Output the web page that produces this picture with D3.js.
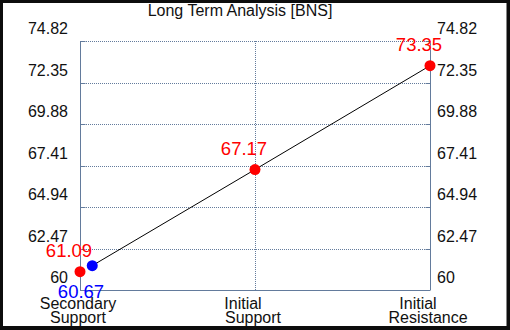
<!DOCTYPE html>
<html>
<head>
<meta charset="utf-8">
<script src="https://cdn.jsdelivr.net/npm/d3@7"></script>
<style>
  html, body { margin: 0; padding: 0; background: #0d0d0d; }
  svg { display: block; font-family: "Liberation Sans", Arial, sans-serif; }
</style>
</head>
<body>
<div id="chart"></div>
<script>
const title = "Long Term Analysis [BNS]";
const categories = ["Secondary Support", "Initial Support", "Initial Resistance"];
const categoryLines = [["Secondary", "Support"], ["Initial", "Support"], ["Initial", "Resistance"]];
const levels = [61.09, 67.17, 73.35];
const yTicks = [60, 62.47, 64.94, 67.41, 69.88, 72.35, 74.82];
// current price marker: drawn on the trend line, labelled with its price
const currentPos = 0.07;
const currentOnLine = 61.45;
const currentPrice = 60.67;

const width = 510, height = 330;
const margin = { top: 41, right: 80, bottom: 40, left: 80 };

const svg = d3.select("#chart").append("svg")
  .attr("width", width)
  .attr("height", height);

svg.append("rect")
  .attr("x", 3).attr("y", 3)
  .attr("width", width - 6.5).attr("height", height - 7)
  .attr("fill", "#fff");

const x = d3.scaleLinear()
  .domain([0, categories.length - 1])
  .range([margin.left, width - margin.right]);

const y = d3.scaleLinear()
  .domain([60, 74.82])
  .range([height - margin.bottom, margin.top]);

const gridColor = "#637b9c";

// horizontal grid
svg.append("g")
  .selectAll("line")
  .data(yTicks)
  .join("line")
  .attr("x1", x(0)).attr("x2", x(2))
  .attr("y1", (d) => Math.round(y(d)) + 0.5)
  .attr("y2", (d) => Math.round(y(d)) + 0.5)
  .attr("stroke", gridColor)
  .attr("stroke-dasharray", (d, i) => (i === 0 ? null : "1,1"));

// vertical grid
svg.append("g")
  .selectAll("line")
  .data(categories)
  .join("line")
  .attr("x1", (d, i) => Math.round(x(i)) + 0.5)
  .attr("x2", (d, i) => Math.round(x(i)) + 0.5)
  .attr("y1", y(74.82)).attr("y2", y(60))
  .attr("stroke", gridColor)
  .attr("stroke-dasharray", (d, i) => (i === 1 ? "1,1" : null));

// inward tick marks on both side axes
[0, 2].forEach((side) => {
  const dir = side === 0 ? 1 : -1;
  svg.append("g")
    .selectAll("line")
    .data(yTicks)
    .join("line")
    .attr("x1", Math.round(x(side)) + 0.5)
    .attr("x2", Math.round(x(side)) + 0.5 + dir * 5)
    .attr("y1", (d) => Math.round(y(d)) + 0.5)
    .attr("y2", (d) => Math.round(y(d)) + 0.5)
    .attr("stroke", gridColor);
});

// y tick labels, left and right
const fmt = (d) => (Number.isInteger(d) ? String(d) : d.toFixed(2));
svg.append("g")
  .selectAll("text")
  .data(yTicks)
  .join("text")
  .attr("x", x(0) - 12)
  .attr("y", (d) => y(d) - 7)
  .attr("text-anchor", "end")
  .attr("font-size", 16)
  .attr("fill", "#111")
  .text(fmt);

svg.append("g")
  .selectAll("text")
  .data(yTicks)
  .join("text")
  .attr("x", x(2) + 7)
  .attr("y", (d) => y(d) - 7)
  .attr("font-size", 16)
  .attr("fill", "#111")
  .text(fmt);

// x category labels
const xl = svg.append("g")
  .selectAll("text")
  .data(categoryLines)
  .join("text")
  .attr("text-anchor", "middle")
  .attr("font-size", 16)
  .attr("fill", "#111");
xl.append("tspan")
  .attr("x", (d, i) => x(i) + (i === 0 ? -2 : -12))
  .attr("y", 309)
  .text((d) => d[0]);
xl.append("tspan")
  .attr("x", (d, i) => x(i) - 2)
  .attr("y", 323)
  .text((d) => d[1]);

// title
svg.append("text")
  .attr("x", 240)
  .attr("y", 16)
  .attr("text-anchor", "middle")
  .attr("font-size", 16)
  .attr("fill", "#111")
  .text(title);

// trend line
const linePts = [[currentPos, currentOnLine], [1, levels[1]], [2, levels[2]]];
svg.append("path")
  .datum(linePts)
  .attr("fill", "none")
  .attr("stroke", "#000")
  .attr("stroke-width", 1)
  .attr("d", d3.line().x((d) => x(d[0])).y((d) => y(d[1])));

// level points
svg.append("g")
  .selectAll("circle")
  .data(levels)
  .join("circle")
  .attr("cx", (d, i) => x(i))
  .attr("cy", (d) => y(d))
  .attr("r", 5.5)
  .attr("fill", "#ff0000");

svg.append("g")
  .selectAll("text")
  .data(levels)
  .join("text")
  .attr("x", (d, i) => x(i) - 11)
  .attr("y", (d) => y(d) - 15)
  .attr("text-anchor", "middle")
  .attr("font-size", 18.5)
  .attr("fill", "#ff0000")
  .text((d) => d.toFixed(2));

// current price point
svg.append("circle")
  .attr("cx", x(currentPos))
  .attr("cy", y(currentOnLine))
  .attr("r", 5.5)
  .attr("fill", "#0000ff");

svg.append("text")
  .attr("x", x(0) + 1)
  .attr("y", y(currentPrice) + 19)
  .attr("text-anchor", "middle")
  .attr("font-size", 18.5)
  .attr("fill", "#0000ff")
  .text(currentPrice.toFixed(2));
</script>
</body>
</html>
